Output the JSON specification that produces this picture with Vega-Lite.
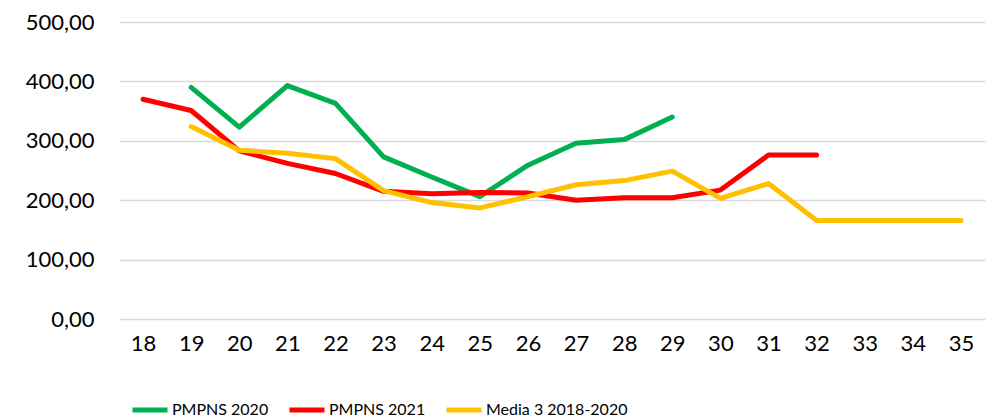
{
  "$schema": "https://vega.github.io/schema/vega-lite/v6.json",
  "width": 866,
  "height": 297,
  "autosize": {"type": "none"},
  "padding": {"left": 119, "top": 22, "right": 4, "bottom": 101},
  "background": "white",
  "config": {
    "view": {"stroke": null},
    "font": "Lato"
  },
  "data": {
    "values": [
      {"week": 19, "series": "PMPNS 2020", "value": 390},
      {"week": 20, "series": "PMPNS 2020", "value": 323},
      {"week": 21, "series": "PMPNS 2020", "value": 393},
      {"week": 22, "series": "PMPNS 2020", "value": 363},
      {"week": 23, "series": "PMPNS 2020", "value": 273},
      {"week": 24, "series": "PMPNS 2020", "value": 239},
      {"week": 25, "series": "PMPNS 2020", "value": 206},
      {"week": 26, "series": "PMPNS 2020", "value": 259},
      {"week": 27, "series": "PMPNS 2020", "value": 296},
      {"week": 28, "series": "PMPNS 2020", "value": 302},
      {"week": 29, "series": "PMPNS 2020", "value": 340},
      {"week": 18, "series": "PMPNS 2021", "value": 370},
      {"week": 19, "series": "PMPNS 2021", "value": 351},
      {"week": 20, "series": "PMPNS 2021", "value": 283},
      {"week": 21, "series": "PMPNS 2021", "value": 262},
      {"week": 22, "series": "PMPNS 2021", "value": 245},
      {"week": 23, "series": "PMPNS 2021", "value": 215},
      {"week": 24, "series": "PMPNS 2021", "value": 211},
      {"week": 25, "series": "PMPNS 2021", "value": 213},
      {"week": 26, "series": "PMPNS 2021", "value": 212},
      {"week": 27, "series": "PMPNS 2021", "value": 200},
      {"week": 28, "series": "PMPNS 2021", "value": 204},
      {"week": 29, "series": "PMPNS 2021", "value": 204},
      {"week": 30, "series": "PMPNS 2021", "value": 217},
      {"week": 31, "series": "PMPNS 2021", "value": 276},
      {"week": 32, "series": "PMPNS 2021", "value": 276},
      {"week": 19, "series": "Media 3 2018-2020", "value": 324},
      {"week": 20, "series": "Media 3 2018-2020", "value": 284},
      {"week": 21, "series": "Media 3 2018-2020", "value": 279},
      {"week": 22, "series": "Media 3 2018-2020", "value": 270},
      {"week": 23, "series": "Media 3 2018-2020", "value": 216},
      {"week": 24, "series": "Media 3 2018-2020", "value": 196},
      {"week": 25, "series": "Media 3 2018-2020", "value": 187},
      {"week": 26, "series": "Media 3 2018-2020", "value": 206},
      {"week": 27, "series": "Media 3 2018-2020", "value": 226},
      {"week": 28, "series": "Media 3 2018-2020", "value": 233},
      {"week": 29, "series": "Media 3 2018-2020", "value": 249},
      {"week": 30, "series": "Media 3 2018-2020", "value": 203},
      {"week": 31, "series": "Media 3 2018-2020", "value": 228},
      {"week": 32, "series": "Media 3 2018-2020", "value": 166},
      {"week": 33, "series": "Media 3 2018-2020", "value": 166},
      {"week": 34, "series": "Media 3 2018-2020", "value": 166},
      {"week": 35, "series": "Media 3 2018-2020", "value": 166}
    ]
  },
  "mark": {"type": "line", "strokeCap": "round", "strokeJoin": "round"},
  "encoding": {
    "x": {
      "field": "week",
      "type": "ordinal",
      "sort": "ascending",
      "scale": {"type": "point", "padding": 0.5},
      "axis": {
        "title": null,
        "domain": false,
        "ticks": false,
        "labelAngle": 0,
        "labelFontSize": 22,
        "labelColor": "#000000",
        "labelPadding": 14
      }
    },
    "y": {
      "field": "value",
      "type": "quantitative",
      "scale": {"domain": [0, 500]},
      "axis": {
        "title": null,
        "domain": false,
        "ticks": false,
        "values": [0, 100, 200, 300, 400, 500],
        "labelExpr": "replace(format(datum.value, '.2f'), '.', ',')",
        "labelFontSize": 22,
        "labelColor": "#000000",
        "labelPadding": 25,
        "gridColor": "#D9D9D9",
        "gridWidth": 1.5
      }
    },
    "color": {
      "field": "series",
      "type": "nominal",
      "scale": {
        "domain": ["PMPNS 2020", "PMPNS 2021", "Media 3 2018-2020"],
        "range": ["#00B050", "#FF0000", "#FFC000"]
      },
      "legend": {
        "title": null,
        "orient": "none",
        "legendX": 11,
        "legendY": 368,
        "direction": "horizontal",
        "symbolType": "stroke",
        "symbolSize": 1225,
        "symbolStrokeWidth": 5,
        "labelFontSize": 16,
        "labelLimit": 400,
        "labelColor": "#000000",
        "labelOffset": 2,
        "columnPadding": 10
      }
    },
    "strokeWidth": {
      "field": "series",
      "type": "nominal",
      "scale": {
        "domain": ["PMPNS 2020", "PMPNS 2021", "Media 3 2018-2020"],
        "range": [5, 5, 2.6]
      },
      "legend": null
    }
  }
}
